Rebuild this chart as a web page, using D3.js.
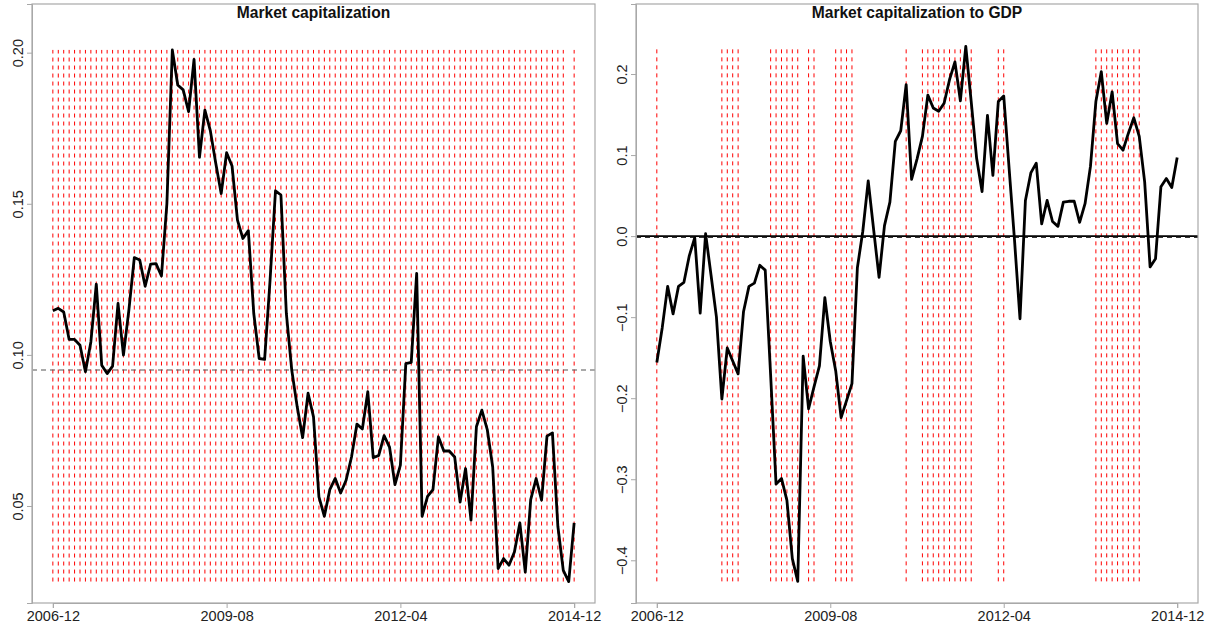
<!DOCTYPE html>
<html>
<head>
<meta charset="utf-8">
<script src="https://cdn.jsdelivr.net/npm/d3@7"></script>
<style>
  html, body { margin: 0; padding: 0; background: #fff; }
  svg { display: block; }
  text { font-family: "Liberation Sans", Arial, Helvetica, sans-serif; }
</style>
</head>
<body>
<svg id="chart" width="1207" height="623"></svg>
<script>
// ---------------- DATA ----------------
const startMonth = new Date(2006, 11, 1);   // 2006-12
const endMonth = new Date(2014, 11, 1);     // 2014-12
const tickLabels = ["2006-12", "2009-08", "2012-04", "2014-12"];

const titles = ["Market capitalization", "Market capitalization to GDP"];

// Left panel: market capitalization (monthly, 2006-12 .. 2014-12)
const marketCap = [
  0.1146, 0.1154, 0.1142, 0.1051, 0.1051, 0.1032, 0.0944, 0.1043, 0.1234, 0.0966,
  0.0938, 0.0963, 0.1170, 0.0999, 0.1148, 0.1322, 0.1314, 0.1227, 0.1300, 0.1302,
  0.1261, 0.1500, 0.2009, 0.1893, 0.1877, 0.1805, 0.1978, 0.1654, 0.1810, 0.1742,
  0.1634, 0.1534, 0.1669, 0.1625, 0.1446, 0.1385, 0.1411, 0.1137, 0.0988, 0.0985,
  0.1247, 0.1543, 0.1529, 0.1137, 0.0949, 0.0828, 0.0726, 0.0873, 0.0795, 0.0530,
  0.0466, 0.0554, 0.0591, 0.0543, 0.0585, 0.0662, 0.0771, 0.0755, 0.0878, 0.0660,
  0.0667, 0.0733, 0.0695, 0.0571, 0.0635, 0.0971, 0.0975, 0.1270, 0.0466, 0.0532,
  0.0554, 0.0729, 0.0682, 0.0682, 0.0662, 0.0513, 0.0624, 0.0453, 0.0762, 0.0817,
  0.0753, 0.0629, 0.0293, 0.0326, 0.0304, 0.0348, 0.0444, 0.0281, 0.0521, 0.0591,
  0.0519, 0.0731, 0.0742, 0.0433, 0.0287, 0.0250, 0.0444
];
const marketCapMean = 0.095;

// Right panel: market capitalization to GDP
const capToGdp = [
  -0.156, -0.113, -0.062, -0.096, -0.062, -0.057, -0.024, -0.002, -0.095, 0.003,
  -0.048, -0.100, -0.201, -0.138, -0.154, -0.170, -0.093, -0.062, -0.058, -0.036,
  -0.042, -0.172, -0.306, -0.299, -0.326, -0.398, -0.426, -0.148, -0.213, -0.186,
  -0.160, -0.076, -0.130, -0.166, -0.224, -0.203, -0.182, -0.039, 0.006, 0.068,
  0.008, -0.051, 0.013, 0.042, 0.117, 0.130, 0.187, 0.070, 0.095, 0.123,
  0.174, 0.158, 0.154, 0.164, 0.193, 0.215, 0.167, 0.234, 0.166, 0.096,
  0.055, 0.149, 0.075, 0.166, 0.173, 0.083, -0.006, -0.102, 0.044, 0.078,
  0.090, 0.015, 0.044, 0.018, 0.012, 0.042, 0.043, 0.043, 0.017, 0.040,
  0.086, 0.166, 0.203, 0.139, 0.178, 0.114, 0.106, 0.127, 0.146, 0.123,
  0.067, -0.038, -0.028, 0.061, 0.071, 0.060, 0.097
];
const capToGdpMean = -0.0015;

// Months flagged with red dashed verticals (index into the monthly series)
const capSignals = [
  0, 1, 2, 3, 4, 5, 6, 7, 8, 9, 10, 11, 12, 13, 14, 15, 16, 17, 18, 19,
  20, 21, 22, 23, 24, 25, 26, 27, 28, 29, 30, 31, 32, 33, 34, 35, 36, 37, 38, 39,
  40, 41, 42, 43, 44, 45, 46, 47, 48, 49, 50, 51, 52, 53, 54, 55, 56, 57, 58, 59,
  60, 61, 62, 63, 64, 65, 66, 67, 68, 69, 70, 71, 72, 73, 74, 75, 76, 77, 78, 79,
  80, 81, 82, 83, 84, 85, 86, 87, 88, 89, 90, 91, 92, 93, 94, 96
];
const gdpSignals = [
  0, 12, 13, 14, 15, 21, 22, 23, 24, 25, 26, 28, 29, 33, 34, 35, 36, 46,
  49, 50, 51, 52, 53, 54, 55, 56, 57, 58, 63, 64,
  81, 82, 83, 84, 85, 86, 87, 88, 89
];

const leftYTicks = [0.05, 0.10, 0.15, 0.20];
const rightYTicks = [-0.4, -0.3, -0.2, -0.1, 0.0, 0.1, 0.2];

// ---------------- DRAW ----------------
const fmtMonth = d3.timeFormat("%Y-%m");
const months = d3.timeMonth.range(startMonth, d3.timeMonth.offset(endMonth, 1)).map(fmtMonth);

const svg = d3.select("#chart");

function panel(opts) {
  const { left, right, top, bottom, values, signals, yDomain, yTicks, yFmt, title, refLines } = opts;
  const pad = (right - left) * 0.04 / 1.08;
  const x = d3.scalePoint().domain(months).range([left + pad, right - pad]).padding(0);
  const y = d3.scaleLinear().domain(yDomain).range([bottom, top]);
  const g = svg.append("g");
  const data = values.map((v, i) => ({ m: months[i], v }));
  const [lo, hi] = d3.extent(values);

  // red signal lines
  g.append("g").selectAll("line").data(signals).join("line")
    .attr("x1", i => x(months[i])).attr("x2", i => x(months[i]))
    .attr("y1", y(lo)).attr("y2", y(hi))
    .attr("stroke", "#ff0000").attr("stroke-width", 1)
    .attr("stroke-dasharray", "4,4");

  // reference lines
  refLines.forEach(r => {
    g.append("line")
      .attr("x1", left).attr("x2", right)
      .attr("y1", y(r.v)).attr("y2", y(r.v))
      .attr("stroke", r.color).attr("stroke-width", r.width)
      .attr("stroke-dasharray", r.dash || null);
  });

  // series line
  g.append("path").datum(data)
    .attr("d", d3.line().x(d => x(d.m)).y(d => y(d.v)))
    .attr("fill", "none").attr("stroke", "#000").attr("stroke-width", 2.8)
    .attr("stroke-linejoin", "round");

  // box
  g.append("rect").attr("x", left).attr("y", top).attr("width", right - left).attr("height", bottom - top)
    .attr("fill", "none").attr("stroke", "#a8a8a8").attr("stroke-width", 1.2);

  // x axis
  const xa = g.append("g").attr("transform", `translate(0,${bottom})`)
    .call(d3.axisBottom(x).tickValues(tickLabels).tickSize(5).tickPadding(3));
  xa.select(".domain").attr("stroke", "#a8a8a8");
  xa.selectAll(".tick line").attr("stroke", "#a8a8a8");
  xa.selectAll(".tick text").attr("font-size", 14.5).attr("fill", "#222")
    .attr("font-family", "Liberation Sans, Arial, sans-serif");

  // y axis
  const ya = g.append("g").attr("transform", `translate(${left},0)`)
    .call(d3.axisLeft(y).tickValues(yTicks).tickFormat(yFmt).tickSize(5));
  ya.select(".domain").attr("stroke", "#a8a8a8");
  ya.selectAll(".tick line").attr("stroke", "#a8a8a8");
  ya.selectAll(".tick text")
    .attr("font-size", 14.5).attr("fill", "#222")
    .attr("font-family", "Liberation Sans, Arial, sans-serif")
    .attr("text-anchor", "middle").attr("dy", null)
    .attr("x", null)
    .attr("transform", "translate(-9,0) rotate(-90)");

  // title
  g.append("text").attr("x", (left + right) / 2).attr("y", top + 13.5)
    .attr("text-anchor", "middle").attr("font-size", 15.6).attr("font-weight", "bold")
    .attr("fill", "#111").text(title);
}

panel({
  left: 32, right: 595, top: 4, bottom: 603,
  values: marketCap, signals: capSignals,
  yDomain: [0.0179, 0.2161], yTicks: leftYTicks, yFmt: d3.format(".2f"),
  title: titles[0],
  refLines: [{ v: marketCapMean, color: "#555", width: 1.2, dash: "5,4" }]
});

panel({
  left: 636, right: 1198, top: 4, bottom: 603,
  values: capToGdp, signals: gdpSignals,
  yDomain: [-0.4527, 0.2864], yTicks: rightYTicks, yFmt: d3.format(".1f"),
  title: titles[1],
  refLines: [
    { v: 0, color: "#000", width: 1.8 },
    { v: capToGdpMean, color: "#333", width: 1.2, dash: "5,4" }
  ]
});
</script>
</body>
</html>
